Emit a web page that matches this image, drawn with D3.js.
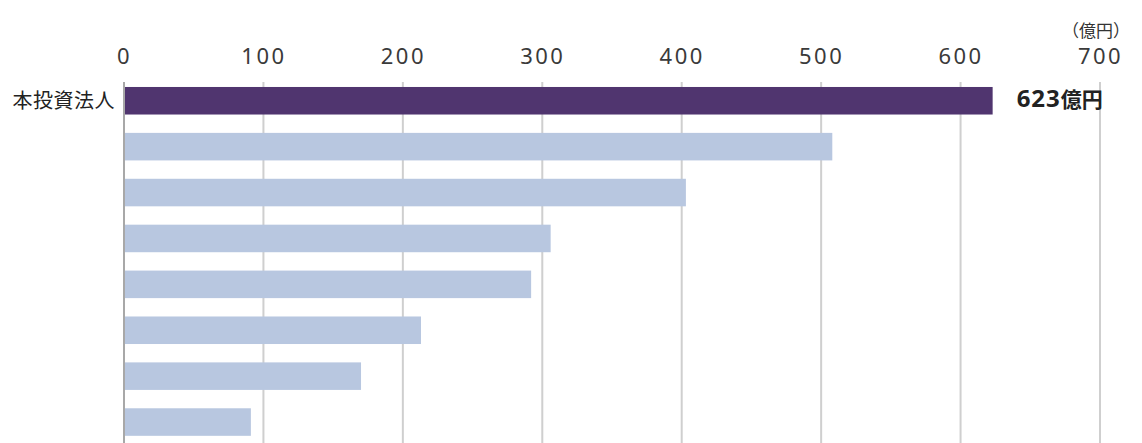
<!DOCTYPE html>
<html>
<head>
<meta charset="utf-8">
<script src="https://cdn.jsdelivr.net/npm/d3@7"></script>
<style>
  html, body { margin: 0; padding: 0; background: #fff; }
  svg { display: block; }
</style>
</head>
<body>
<svg id="chart" width="1142" height="443"></svg>
<script>
// ---- data ----
const categories = ["本投資法人", "B", "C", "D", "E", "F", "G", "H"];
const categoryLabels = ["本投資法人", "", "", "", "", "", "", ""];
const values = [623, 508, 403, 306, 292, 213, 170, 91];
const highlight = [true, false, false, false, false, false, false, false];
const tickValues = [0, 100, 200, 300, 400, 500, 600, 700];
const unitLabel = "（億円）";
const valueLabelNumber = "623";
const valueLabelUnit = "億円";

// ---- layout ----
const W = 1142, H = 443;
const svg = d3.select("#chart");

const x = d3.scaleLinear().domain([0, 700]).range([124, 1100]);
const y = d3.scaleBand().domain(categories).range([77.8, 445]).paddingInner(0.4).paddingOuter(0.2);

// gridlines
const grid = svg.append("g");
grid.selectAll("line").data(tickValues).join("line")
  .attr("x1", d => x(d)).attr("x2", d => x(d))
  .attr("y1", 82).attr("y2", H)
  .attr("stroke", d => d === 0 ? "#a8a8a8" : "#cfcfcf")
  .attr("stroke-width", 2);

// top axis labels
const axis = d3.axisTop(x).tickValues(tickValues).tickSize(0).tickPadding(0).tickFormat(d3.format("d"));
const ax = svg.append("g").attr("transform", "translate(0,64)").call(axis);
ax.select(".domain").remove();
ax.selectAll("text")
  .attr("font-family", "'Noto Sans', sans-serif")
  .attr("font-size", 22)
  .attr("letter-spacing", 2.5)
  .attr("fill", "#3a3a3a")
  .attr("dy", 0);

// unit
svg.append("text")
  .attr("x", 1130).attr("y", 37)
  .attr("text-anchor", "end")
  .attr("font-family", "'Noto Sans CJK JP', sans-serif")
  .attr("font-size", 17)
  .attr("fill", "#333")
  .text(unitLabel);

// bars
svg.append("g").selectAll("rect").data(values).join("rect")
  .attr("x", x(0) + 1)
  .attr("y", (d, i) => y(categories[i]))
  .attr("width", d => x(d) - x(0) - 1)
  .attr("height", y.bandwidth())
  .attr("fill", (d, i) => highlight[i] ? "#50356f" : "#b8c7e0");

// category labels
svg.append("g").selectAll("text").data(categoryLabels).join("text")
  .attr("x", 115)
  .attr("y", (d, i) => y(categories[i]) + y.bandwidth() / 2)
  .attr("dy", "0.35em")
  .attr("text-anchor", "end")
  .attr("font-family", "'Noto Sans CJK JP', sans-serif")
  .attr("font-size", 20)
  .attr("letter-spacing", 0.5)
  .attr("fill", "#222")
  .text(d => d);

// value label for highlighted bar
const hi = highlight.indexOf(true);
const vt = svg.append("text")
  .attr("x", x(values[hi]) + 24)
  .attr("y", y(categories[hi]) + y.bandwidth() / 2)
  .attr("dy", "0.36em")
  .attr("font-weight", "bold")
  .attr("fill", "#222");
vt.append("tspan")
  .attr("font-family", "'Noto Sans', sans-serif")
  .attr("font-size", 24)
  .attr("letter-spacing", 1)
  .text(valueLabelNumber);
vt.append("tspan")
  .attr("font-family", "'Noto Sans CJK JP', sans-serif")
  .attr("font-size", 21)
  .text(valueLabelUnit);
</script>
</body>
</html>
